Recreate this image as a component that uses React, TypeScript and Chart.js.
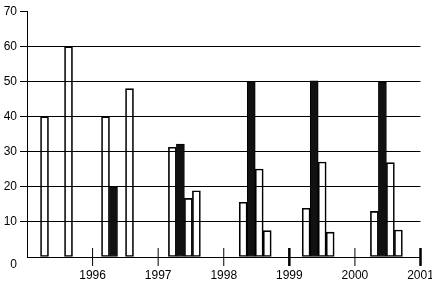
import React, { useEffect, useRef } from "react";
import { Chart, registerables } from "chart.js";

Chart.register(...registerables);

// Group dates (fractional years) for each cluster of bars
const groupDates = [1995.45, 1996.38, 1997.4, 1998.48, 1999.44, 2000.48];
const seriesA = [40, 40, 31.3, 15.6, 13.9, 13.0];
const seriesB = [0, 20, 32.2, 50, 50.2, 49.9];
const seriesC = [0, 0, 16.7, 25.1, 27.1, 26.9];
const seriesD = [60, 48, 18.9, 7.5, 7.1, 7.7];
const yearTicks = [1996, 1997, 1998, 1999, 2000, 2001];
const yTicks = [0, 10, 20, 30, 40, 50, 60, 70];

export default function App() {
  const ref = useRef<HTMLCanvasElement | null>(null);

  useEffect(() => {
    document.body.style.margin = "0";
    const canvas = ref.current;
    if (!canvas) return;
    const font = { family: "'Liberation Sans', Arial, sans-serif", size: 12 };
    const toPts = (vals: number[]) => vals.map((v, i) => ({ x: groupDates[i], y: v }));
    const barBase = {
      type: "bar" as const,
      barThickness: 8,
      borderWidth: 1,
      borderColor: "#000",
      borderSkipped: false,
    };
    const chart = new Chart(canvas, {
      type: "bar",
      data: {
        datasets: [
          { ...barBase, data: toPts(seriesA), backgroundColor: "rgba(0,0,0,0)" },
          { ...barBase, data: toPts(seriesB), backgroundColor: "#111" },
          { ...barBase, data: toPts(seriesC), backgroundColor: "rgba(0,0,0,0)" },
          { ...barBase, data: toPts(seriesD), backgroundColor: "rgba(0,0,0,0)" },
          {
            type: "scatter" as const,
            data: yearTicks.map((y) => ({ x: y, y: 0 })),
            pointStyle: "line",
            rotation: 90,
            radius: 9,
            borderColor: "#000",
            borderWidth: yearTicks.map((y) => (y === 1999 || y === 2001 ? 2.5 : 1)),
            clip: false,
          } as any,
        ],
      },
      options: {
        animation: false,
        responsive: false,
        layout: { padding: { top: 7, right: 10, left: 0, bottom: 0 } },
        plugins: { legend: { display: false }, tooltip: { enabled: false } },
        scales: {
          x: {
            type: "linear",
            min: 1995,
            max: 2001,
            offset: false,
            grid: {
              offset: false,
              drawOnChartArea: false,
              drawTicks: true,
              tickLength: 8,
              tickColor: "rgba(0,0,0,0)",
            },
            border: { color: "#000", width: 1 },
            ticks: {
              stepSize: 1,
              autoSkip: false,
              maxRotation: 0,
              padding: 3,
              color: "#000",
              font,
              callback: (v: any) => (v === 1995 ? "" : String(v)),
            },
            afterFit: (s: any) => {
              s.height = 28;
              s.paddingLeft = 0;
              s.paddingRight = 0;
            },
          },
          y: {
            min: 0,
            max: 70,
            afterBuildTicks: (s: any) => {
              s.ticks = yTicks.map((v) => ({ value: v }));
            },
            grid: {
              color: (c: any) => (c.tick && (c.tick.value === 0 || c.tick.value === 70) ? "rgba(0,0,0,0)" : "#000"),
              tickColor: (c: any) => (c.tick && c.tick.value === 0 ? "rgba(0,0,0,0)" : "#000"),
              tickLength: 7,
              lineWidth: 1,
            },
            border: { color: "#000", width: 1 },
            ticks: {
              padding: 3,
              color: "#000",
              font,
              callback: (v: any) => (v === 0 ? ["", "0"] : String(v)),
            },
            afterFit: (s: any) => {
              s.width = 27;
              s.paddingTop = 0;
              s.paddingBottom = 0;
            },
          },
        },
      },
    });
    return () => chart.destroy();
  }, []);

  return <canvas ref={ref} width={432} height={285} style={{ display: "block" }} />;
}
